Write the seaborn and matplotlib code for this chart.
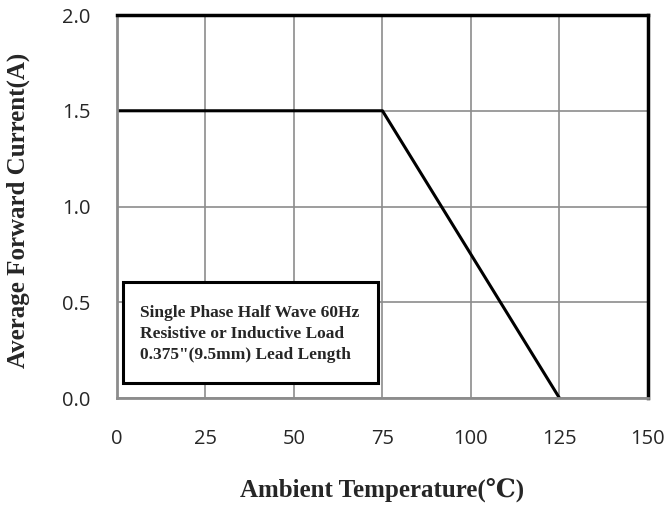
import matplotlib
matplotlib.use("Agg")
import matplotlib.pyplot as plt
import seaborn as sns
import pandas as pd

# derating curve
temp_c = [0, 75, 125]
current_a = [1.5, 1.5, 0.0]

x_ticks = [0, 25, 50, 75, 100, 125, 150]
y_ticks = [0.0, 0.5, 1.0, 1.5, 2.0]

note_lines = ['Single Phase Half Wave 60Hz',
              'Resistive or Inductive Load',
              '0.375"(9.5mm) Lead Length']

sns.set_style("white")
serif = ['Liberation Serif', 'DejaVu Serif']
grid_gray = '#8c8c8c'

fig = plt.figure(figsize=(6.67, 5.09), dpi=100)
ax = fig.add_axes([0.1754, 0.218, 0.796, 0.7525])

df = pd.DataFrame({'t': temp_c, 'i': current_a})
sns.lineplot(data=df, x='t', y='i', ax=ax, color='black', linewidth=2.2)

ax.set_xlim(0, 150)
ax.set_ylim(0, 2.0)
ax.set_xticks(x_ticks)
ax.set_yticks(y_ticks)
ax.set_xticklabels([str(v) for v in x_ticks], fontfamily='Open Sans', fontsize=14.5)
ax.set_yticklabels([f'{v:.1f}' for v in y_ticks], fontfamily='Open Sans', fontsize=14.5)

ax.grid(True, color=grid_gray, linewidth=1.2)
ax.tick_params(axis='x', direction='out', length=5, width=1.5, color=grid_gray, pad=17)
ax.tick_params(axis='y', direction='out', length=6, width=1.5, color=grid_gray, pad=13)

for s in ['left', 'bottom']:
    ax.spines[s].set_color(grid_gray)
    ax.spines[s].set_linewidth(2)
for s in ['top', 'right']:
    ax.spines[s].set_color('black')
    ax.spines[s].set_linewidth(2.5)

ax.set_xlabel('Ambient Temperature(\u2103)', fontfamily=serif, fontweight='bold',
              fontsize=18)
ax.set_ylabel('Average Forward Current(A)', fontfamily=serif, fontweight='bold',
              fontsize=18)
ax.xaxis.set_label_coords(0.5, -0.243)
ax.xaxis.label.set_va('center')
ax.yaxis.set_label_coords(-0.185, 0.49)
ax.yaxis.label.set_va('center')

ax.text(0.043, 0.168, '\n'.join(note_lines), transform=ax.transAxes,
        fontfamily=serif, fontweight='bold', fontsize=12.5, va='center', ha='left',
        linespacing=1.42, zorder=4)
box = plt.Rectangle((0.011, 0.039), 0.48, 0.264, transform=ax.transAxes,
                    fill=True, facecolor='white', edgecolor='black', linewidth=2.2,
                    zorder=3)
ax.add_patch(box)

fig.savefig('out.png', dpi=100)
